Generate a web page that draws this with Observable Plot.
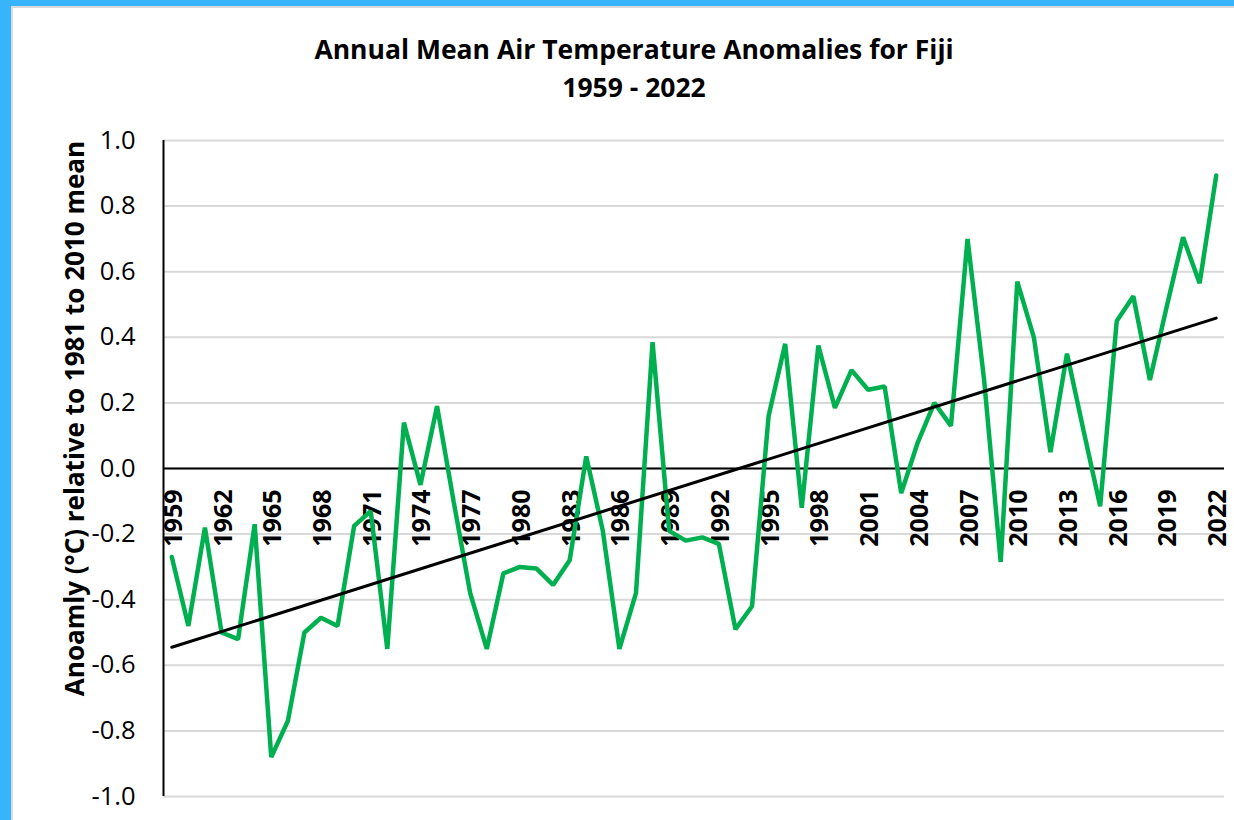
<!DOCTYPE html>
<html>
<head>
<meta charset="utf-8">
<script src="https://cdn.jsdelivr.net/npm/d3@7"></script>
<script src="https://cdn.jsdelivr.net/npm/@observablehq/plot@0.6"></script>
<style>
  html, body { margin: 0; padding: 0; background: #fff; }
  #wrap { position: relative; width: 1234px; height: 820px; overflow: hidden; background: #fff; }
  #wrap svg { position: absolute; left: 0; top: 0; }
  .blueTop { position: absolute; left: 0; top: 0; width: 1234px; height: 6px; background: #38b4fb; }
  .blueLeft { position: absolute; left: 0; top: 0; width: 11px; height: 820px; background: #38b4fb; }
  .greyTop { position: absolute; left: 11px; top: 6px; width: 1223px; height: 2px; background: #d9d9d9; }
  .greyLeft { position: absolute; left: 11px; top: 6px; width: 2px; height: 814px; background: #d9d9d9; }
</style>
</head>
<body>
<div id="wrap"></div>
<script>
const titleLines = ["Annual Mean Air Temperature Anomalies for Fiji", "1959 - 2022"];
const yAxisTitle = "Anoamly (°C) relative to 1981 to 2010 mean";

const years = d3.range(1959, 2023);
const anomalies = [
  -0.27, -0.48, -0.18, -0.50, -0.52, -0.17, -0.88, -0.77, -0.50, -0.455,
  -0.48, -0.175, -0.13, -0.55, 0.14, -0.05, 0.19, -0.10, -0.38, -0.55,
  -0.32, -0.30, -0.305, -0.355, -0.28, 0.037, -0.19, -0.55, -0.38, 0.385,
  -0.19, -0.22, -0.21, -0.23, -0.49, -0.42, 0.16, 0.38, -0.12, 0.375,
  0.185, 0.30, 0.24, 0.25, -0.075, 0.08, 0.20, 0.13, 0.70, 0.27,
  -0.285, 0.57, 0.40, 0.05, 0.35, 0.115, -0.115, 0.45, 0.525, 0.27,
  0.49, 0.705, 0.565, 0.893
];
const tickYears = d3.range(1959, 2023, 3);
const yTicks = [-1.0, -0.8, -0.6, -0.4, -0.2, 0.0, 0.2, 0.4, 0.6, 0.8, 1.0];

const data = years.map((year, i) => ({year, value: anomalies[i]}));

const FONT = "'Open Sans', 'DejaVu Sans', sans-serif";

const chart = Plot.plot({
  width: 1234,
  height: 820,
  marginLeft: 163,
  marginRight: 10,
  marginTop: 140,
  marginBottom: 24,
  style: {fontFamily: FONT, background: "transparent", overflow: "visible"},
  x: {domain: [1958.5, 2022.5], axis: null},
  y: {domain: [-1, 1], axis: null},
  marks: [
    Plot.ruleY(yTicks, {stroke: "#d9d9d9", strokeWidth: 2}),
    Plot.ruleX([1958.5], {y1: -1, y2: 1, stroke: "#000", strokeWidth: 2}),
    Plot.ruleY([0], {stroke: "#000", strokeWidth: 2}),
    Plot.axisY(yTicks, {
      tickSize: 0, tickPadding: 28, fontSize: 25.5, fill: "#000",
      tickFormat: d => d.toFixed(1), label: null
    }),
    Plot.text(tickYears, {
      x: d => d, y: () => 0, text: d => String(d),
      rotate: -90, textAnchor: "end", dy: 21, dx: 2,
      fontSize: 25, fontWeight: "bold", fill: "#000"
    }),
    Plot.line(data, {x: "year", y: "value", stroke: "#00b050", strokeWidth: 4.5, strokeLinejoin: "miter"}),
    Plot.linearRegressionY(data, {x: "year", y: "value", stroke: "#000", strokeWidth: 3, ci: 0}),
    Plot.text([titleLines[0]], {
      frameAnchor: "top", lineAnchor: "middle", dx: -60, dy: -90, text: d => d,
      fontSize: 26.5, fontWeight: "bold", fill: "#000"
    }),
    Plot.text([titleLines[1]], {
      frameAnchor: "top", lineAnchor: "middle", dx: -60, dy: -52, text: d => d,
      fontSize: 26.5, fontWeight: "bold", fill: "#000"
    }),
    Plot.text([yAxisTitle], {
      frameAnchor: "left", textAnchor: "middle", lineAnchor: "middle",
      dx: -88, dy: -50, rotate: -90, text: d => d,
      fontSize: 26, fontWeight: "bold", fill: "#000"
    })
  ]
});

const wrap = document.getElementById("wrap");
wrap.appendChild(chart);
for (const cls of ["blueTop", "blueLeft", "greyTop", "greyLeft"]) {
  const d = document.createElement("div");
  d.className = cls;
  wrap.appendChild(d);
}
</script>
</body>
</html>
